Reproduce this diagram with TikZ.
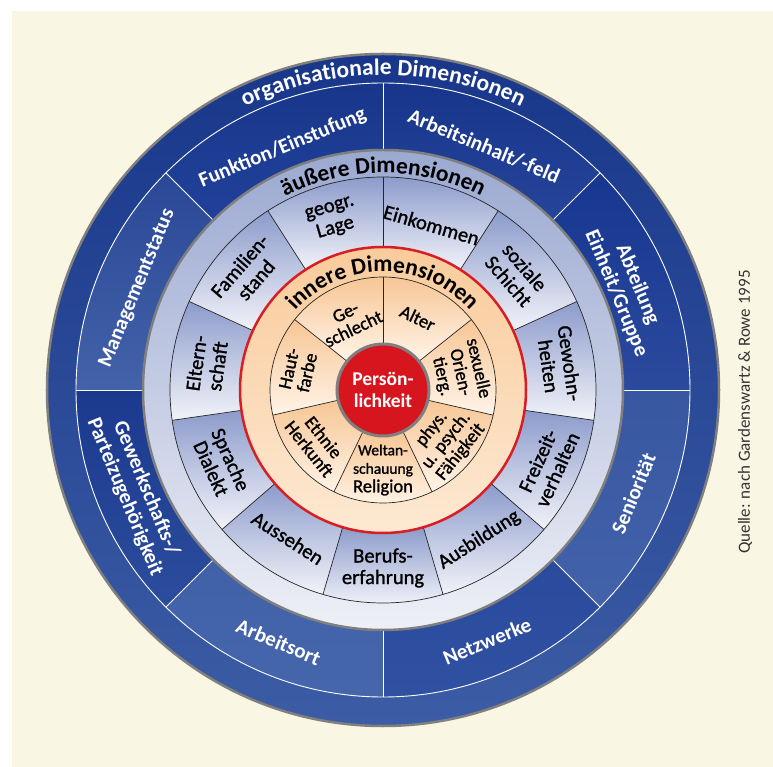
\documentclass[tikz,border=0pt]{standalone}
\usepackage{fontspec}
\setmainfont{Carlito}
\newfontfamily\semibold[FakeBold=1.2]{Carlito}
\usetikzlibrary{decorations.text}

\definecolor{cream}{HTML}{FAF6E4}
\definecolor{bandtop}{HTML}{18378A}
\definecolor{bandbot}{HTML}{3C5CA5}
\definecolor{midtop}{HTML}{9BA9D1}
\definecolor{midbot}{HTML}{EEF0F7}
\definecolor{midsegtop}{HTML}{8C9BCB}
\definecolor{midsegbot}{HTML}{F2F3F9}
\definecolor{peachtop}{HTML}{F9CB9B}
\definecolor{peachbot}{HTML}{FDE9D3}
\definecolor{insegtop}{HTML}{F7C695}
\definecolor{insegbot}{HTML}{FFF4E8}
\definecolor{persred}{HTML}{D7151F}
\definecolor{rimgray}{HTML}{7F7F7F}
\definecolor{ringred}{HTML}{D81E23}

% annular sector: start angle, end angle, inner radius, outer radius, options
\newcommand\annseg[5]{%
  \path[#5] (#1:#3) -- (#1:#4) arc[start angle=#1, end angle=#2, radius=#4pt]
    -- (#2:#3) arc[start angle=#2, end angle=#1, radius=#3pt] -- cycle;}

\newcommand\titlefont{\fontsize{23.5}{23.5}\selectfont\bfseries}
\newcommand\smallline{\fontsize{15.5}{15.5}\selectfont}

\tikzset{
  orglabel/.style={text=white, font=\fontsize{21}{23}\selectfont\bfseries, align=center, inner sep=0pt},
  midlabel/.style={text=black, font=\semibold\fontsize{20.5}{21.5}\selectfont, align=center, inner sep=0pt},
  inlabel/.style={text=black, font=\semibold\fontsize{18.5}{18.5}\selectfont, align=center, inner sep=0pt},
  thinline/.style={draw=black!85, line width=0.7pt},
  whiteline/.style={draw=white, line width=0.9pt},
}

\begin{document}
\begin{tikzpicture}[x=1pt, y=1pt]
\useasboundingbox (-383,-377) rectangle (390,390);
\fill[cream] (-371,-377) rectangle (390,379);

% organisational ring
\path[top color=bandtop, bottom color=bandbot] (0,0) circle[radius=336pt];
\foreach \k/\ct/\cb in {0/17368B/25449A, 1/163690/2B4A9E, 2/3857A1/4262AA, 3/2A4A9D/3050A2,
                        4/4060A8/4666AC, 5/1B3A8F/2C4C9D, 6/2A4896/4362A9, 7/18378B/21409A} {
  \pgfmathsetmacro\sa{90-\k*45}
  \pgfmathsetmacro\sb{90-(\k+1)*45}
  \definecolor{segt}{HTML}{\ct}\definecolor{segb}{HTML}{\cb}
  \annseg{\sa}{\sb}{240}{307}{top color=segt, bottom color=segb}
}
\draw[whiteline] (0,0) circle[radius=307pt];
\foreach \k in {0,...,7} {
  \draw[whiteline] (90-\k*45:240) -- (90-\k*45:307);
}
\draw[rimgray, line width=2.5pt] (0,0) circle[radius=336pt];

% outer dimensions ring
\path[top color=midtop, bottom color=midbot] (0,0) circle[radius=240pt];
\foreach \k in {0,...,10} {
  \pgfmathsetmacro\sa{90-\k*360/11}
  \pgfmathsetmacro\sb{90-(\k+1)*360/11}
  \annseg{\sa}{\sb}{143}{213}{top color=midsegtop, bottom color=midsegbot}
}
\foreach \k in {0,...,10} {
  \draw[thinline] (90-\k*360/11:143) -- (90-\k*360/11:213);
}
\draw[thinline] (0,0) circle[radius=213pt];
\draw[rimgray, line width=2.5pt] (0,0) circle[radius=240pt];

% inner dimensions ring
\path[top color=peachtop, bottom color=peachbot] (0,0) circle[radius=143pt];
\foreach \k in {0,...,6} {
  \pgfmathsetmacro\sa{90-\k*360/7}
  \pgfmathsetmacro\sb{90-(\k+1)*360/7}
  \annseg{\sa}{\sb}{47}{113}{top color=insegtop, bottom color=insegbot}
}
\foreach \k in {0,...,6} {
  \draw[thinline] (90-\k*360/7:47) -- (90-\k*360/7:113);
}
\draw[thinline] (0,0) circle[radius=113pt];
\draw[ringred, line width=2.5pt] (0,0) circle[radius=143pt];

% core
\node[circle, fill=persred, draw=rimgray, line width=3pt, minimum size=92pt, inner sep=0pt,
      text=white, font=\fontsize{19.5}{21.5}\selectfont\bfseries, align=center] (pers) at (0,0) {Persön-\\lichkeit};

% ring titles
\path[decorate, decoration={text along path, text={|\titlefont|organisationale Dimensionen},
      text color=white, text align=center}]
  (150:315) arc[start angle=150, end angle=30, radius=315pt];
\path[decorate, decoration={text along path, text={|\titlefont|äußere Dimensionen},
      text color=black, text align=center}]
  (150:217) arc[start angle=150, end angle=30, radius=217pt];
\path[decorate, decoration={text along path, text={|\titlefont|innere Dimensionen},
      text color=black, text align=center}]
  (170:118) arc[start angle=170, end angle=10, radius=118pt];

% organisational labels
\node[orglabel, rotate=-22.5] (o1) at (67.5:264) {Arbeitsinhalt/-feld};
\node[orglabel, rotate=-67.5] (o2) at (22.5:264) {Abteilung\\Einheit/Gruppe};
\node[orglabel, rotate=67.5] (o3) at (-22.5:271) {Seniorität};
\node[orglabel, rotate=22.5] (o4) at (-67.5:272) {Netzwerke};
\node[orglabel, rotate=-22.5] (o5) at (-112.5:273) {Arbeitsort};
\node[orglabel, rotate=-67.5] (o6) at (-157.5:268) {Gewerkschafts-/\\Parteizugehörigkeit};
\node[orglabel, rotate=67.5] (o7) at (157.5:266) {Managementstatus};
\node[orglabel, rotate=22.5] (o8) at (112.5:262) {Funktion/Einstufung};

% outer dimension labels
\node[midlabel, rotate=16.36] (m1) at (106.36:178) {geogr.\\Lage};
\node[midlabel, rotate=-16.36] (m2) at (73.64:172) {Einkommen};
\node[midlabel, rotate=-49.09] (m3) at (40.91:177) {soziale\\Schicht};
\node[midlabel, rotate=-81.82] (m4) at (8.18:178) {Gewohn-\\heiten};
\node[midlabel, rotate=65.45] (m5) at (-24.55:181) {Freizeit-\\verhalten};
\node[midlabel, rotate=32.73] (m6) at (-57.27:178) {Ausbildung};
\node[midlabel] (m7) at (-90:178) {Berufs-\\erfahrung};
\node[midlabel, rotate=-32.73] (m8) at (-122.73:176) {Aussehen};
\node[midlabel, rotate=-65.45] (m9) at (-155.45:178) {Sprache\\Dialekt};
\node[midlabel, rotate=81.82] (m10) at (171.82:178) {Eltern-\\schaft};
\node[midlabel, rotate=49.09] (m11) at (139.09:179) {Familien-\\stand};

% inner dimension labels
\node[inlabel, rotate=25.71] (i1) at (115.71:77) {Ge-\\schlecht};
\node[inlabel, rotate=-25.71] (i2) at (64.29:80) {Alter};
\node[inlabel, rotate=-77.14] (i3) at (12.86:79) {sexuelle\\Orien-\\tierg.};
\node[inlabel, rotate=51.43] (i4) at (-38.57:81) {phys.\\u. psych.\\Fähigkeit};
\node[inlabel] (i5) at (-90:80) {\smallline Weltan-\\\smallline schauung\\Religion};
\node[inlabel, rotate=-51.43] (i6) at (-141.43:85) {Ethnie\\Herkunft};
\node[inlabel, rotate=77.14] (i7) at (167.14:87) {Haut-\\farbe};

% source note
\node[rotate=90, text=black!80, font=\fontsize{17}{17}\selectfont] (src) at (362,-22)
  {Quelle: nach Gardenswartz \& Rowe 1995};
\end{tikzpicture}
\end{document}
